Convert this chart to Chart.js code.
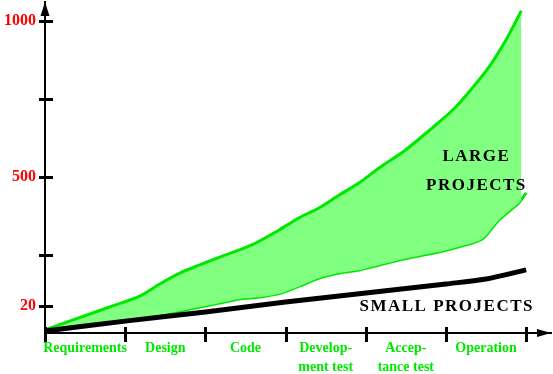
<!DOCTYPE html>
<html>
<head>
<meta charset="utf-8">
<script src="https://cdn.jsdelivr.net/npm/chart.js@4.4.1/dist/chart.umd.min.js"></script>
<style>
  html, body { margin: 0; padding: 0; background: #fff; }
  #wrap { width: 553px; height: 374px; }
</style>
</head>
<body>
<div id="wrap"><canvas id="chart" width="553" height="374"></canvas></div>
<script>
// stages along the x axis (boundaries get tick marks, centers get labels)
const stageBounds = [0, 1, 2, 3, 4, 5, 6];
const stageCenters = [0.5, 1.5, 2.5, 3.5, 4.5, 5.5];
const stageLabels = ['Requirements', 'Design', 'Code', ['Develop-', 'ment test'], ['Accep-', 'tance test'], 'Operation'];

// y axis ticks (axis is not to scale near the bottom)
const yTickValues = [87, 250, 500, 750, 1000];
const yTickLabels = ['20', '', '500', '', '1000'];

// large projects: upper edge of the band
const largeHighX = [0, 0.35, 0.77, 1.18, 1.43, 1.68, 1.93, 2.18, 2.58, 2.92, 3.17, 3.42, 3.67, 3.92, 4.17, 4.50, 4.83, 5.10, 5.33, 5.54, 5.75, 5.94];
const largeHighY = [10, 42, 80, 118, 157, 192, 218, 243, 282, 330, 369, 401, 442, 481, 529, 587, 657, 718, 785, 853, 939, 1032];

// large projects: lower edge of the band
const largeLowX = [0, 0.98, 1.43, 1.81, 2.18, 2.42, 2.67, 2.92, 3.17, 3.42, 3.67, 3.92, 4.17, 4.42, 4.67, 4.92, 5.16, 5.45, 5.66, 5.91, 6.0];
const largeLowY = [10, 42, 58, 77, 96, 109, 115, 126, 150, 176, 192, 202, 218, 234, 247, 260, 276, 301, 362, 417, 449];

// small projects line
const smallX = [0, 1, 2, 3, 4, 5, 5.5, 6];
const smallY = [6, 38, 67, 99, 128, 157, 173, 202];

// text notes placed in data coordinates
const notes = [
  { text: 'LARGE', x: 5.38, y: 564 },
  { text: 'PROJECTS', x: 5.38, y: 471 },
  { text: 'SMALL PROJECTS', x: 5.01, y: 83 },
];

const SERIF = '"Liberation Serif", "Times New Roman", serif';
const GREEN = '#00e800';

function pts(xs, ys){
  return xs.map((x, i) => ({ x, y: ys[i] }));
}

const decor = {
  id: 'decor',
  afterDatasetsDraw(chart){
    const { ctx, scales: { x, y } } = chart;
    ctx.save();
    ctx.fillStyle = '#000';
    ctx.font = 'bold 17px ' + SERIF;
    ctx.letterSpacing = '1.5px';
    ctx.textAlign = 'center';
    ctx.textBaseline = 'middle';
    notes.forEach(n => ctx.fillText(n.text, x.getPixelForValue(n.x), y.getPixelForValue(n.y)));
    ctx.restore();
  },
  afterDraw(chart){
    const { ctx, scales: { x, y } } = chart;
    ctx.save();
    ctx.strokeStyle = '#000';
    ctx.lineWidth = 3;
    ctx.beginPath();
    stageBounds.forEach(v => {
      const px = Math.round(x.getPixelForValue(v)) + 0.5;
      ctx.moveTo(px, y.bottom - 6);
      ctx.lineTo(px, y.bottom + 9);
    });
    yTickValues.forEach(v => {
      const py = Math.round(y.getPixelForValue(v)) + 0.5;
      ctx.moveTo(x.left - 6, py);
      ctx.lineTo(x.left + 8, py);
    });
    ctx.stroke();

    // arrow heads
    ctx.fillStyle = '#000';
    ctx.beginPath();
    ctx.moveTo(x.left, y.top);
    ctx.lineTo(x.left - 4.5, y.top + 14);
    ctx.lineTo(x.left + 4.5, y.top + 14);
    ctx.closePath();
    ctx.fill();
    ctx.beginPath();
    ctx.moveTo(x.right, y.bottom);
    ctx.lineTo(x.right - 14, y.bottom - 4);
    ctx.lineTo(x.right - 14, y.bottom + 4);
    ctx.closePath();
    ctx.fill();
    ctx.restore();
  }
};

const ctx = document.getElementById('chart').getContext('2d');
new Chart(ctx, {
  type: 'line',
  data: {
    datasets: [
      {
        label: 'Small projects',
        data: pts(smallX, smallY),
        borderColor: '#000',
        borderWidth: 5,
        pointRadius: 0,
        fill: false,
        tension: 0.3,
        order: 0
      },
      {
        label: 'Large projects (high)',
        data: pts(largeHighX, largeHighY),
        borderColor: GREEN,
        borderWidth: 3,
        backgroundColor: '#80ff80',
        pointRadius: 0,
        fill: '+1',
        tension: 0.3,
        order: 1
      },
      {
        label: 'Large projects (low)',
        data: pts(largeLowX, largeLowY),
        borderColor: GREEN,
        borderWidth: 3,
        pointRadius: 0,
        fill: false,
        tension: 0.3,
        order: 2
      }
    ]
  },
  options: {
    responsive: false,
    animation: false,
    devicePixelRatio: 1,
    layout: { padding: { top: 2, right: 2, left: 0, bottom: 0 } },
    plugins: { legend: { display: false }, tooltip: { enabled: false } },
    scales: {
      x: {
        type: 'linear',
        min: 0,
        max: 6.31,
        grid: { display: false, drawTicks: false },
        border: { display: true, color: '#000', width: 2 },
        afterBuildTicks: axis => { axis.ticks = stageCenters.map(v => ({ value: v })); },
        afterFit: s => { s.height = 41; s.paddingLeft = 0; s.paddingRight = 0; },
        ticks: {
          autoSkip: false,
          maxRotation: 0,
          padding: 6,
          color: GREEN,
          font: { family: SERIF, size: 14, weight: 'bold', lineHeight: 1.36 },
          callback: (v, i) => stageLabels[i]
        }
      },
      y: {
        type: 'linear',
        min: 0,
        max: 1060,
        grid: { display: false, drawTicks: false },
        border: { display: true, color: '#000', width: 2 },
        afterBuildTicks: axis => { axis.ticks = yTickValues.map(v => ({ value: v })); },
        afterFit: s => { s.width = 45; s.paddingTop = 0; s.paddingBottom = 0; },
        ticks: {
          padding: 9,
          color: '#ff0000',
          font: { family: SERIF, size: 16, weight: 'bold' },
          callback: (v, i) => yTickLabels[i]
        }
      }
    }
  },
  plugins: [decor]
});
</script>
</body>
</html>
